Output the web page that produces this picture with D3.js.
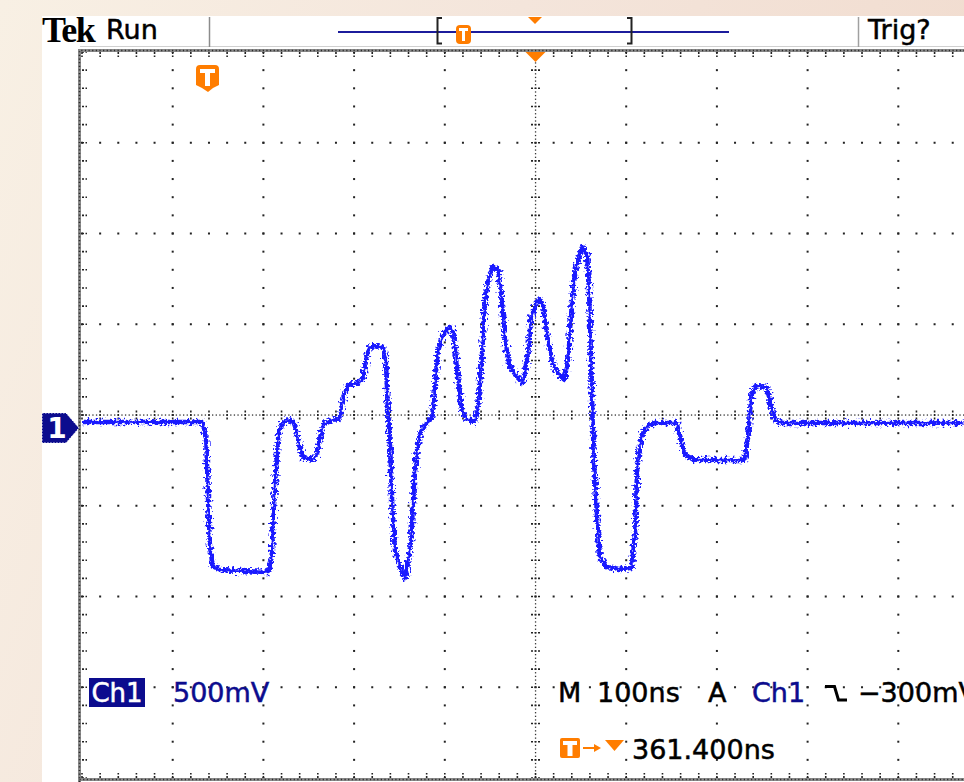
<!DOCTYPE html>
<html lang="en">
<head>
<meta charset="UTF-8">
<script src="https://d3js.org/d3.v7.min.js"></script>
<title>Tek Run</title>
<style>
    body { margin: 0; background: #fff; }
    svg { display: block; }
    text { font-family: "DejaVu Sans", sans-serif; }
</style>
</head>
<body>
<div id="chart"></div>
<script>
    // Ch1 trace: time in ns from left edge, level in mV
    let timeNs = [0, 133, 137, 139, 141, 144, 152, 174, 205, 209, 213, 216, 219, 226, 234, 238, 244, 254, 259, 262,
        266, 276, 284, 289, 293, 306, 310, 315, 320, 332, 335, 337, 340, 342, 345, 351, 356, 359, 363, 366,
        369, 373, 380, 386, 389, 392, 398, 406, 409, 412, 416, 419, 424, 433, 437, 441, 444, 448, 453, 459,
        463, 466, 471, 480, 485, 488, 492, 495, 501, 506, 509, 512, 518, 524, 532, 536, 540, 544, 549, 552,
        557, 559, 562, 564, 568, 571, 579, 593, 606, 610, 612, 614, 617, 623, 632, 656, 660, 665, 676, 730,
        734, 738, 743, 755, 759, 764, 771, 972]
    let ch1mV = [33, 33, -66, -397, -645, -761, -783, -788, -794, -728, -287, -66, 17, 44, 33, -66, -165, -176, -149, -66,
        17, 44, 55, 182, 237, 248, 276, 430, 452, 447, 375, 127, -138, -413, -673, -772, -827, -755, -617, -314,
        -132, -28, 28, 55, 209, 413, 513, 557, 529, 402, 209, 99, 50, 33, 127, 402, 689, 816, 888, 871,
        689, 502, 347, 281, 248, 292, 430, 606, 695, 706, 650, 540, 375, 303, 265, 375, 689, 871, 965, 998,
        954, 761, 226, -138, -507, -711, -766, -777, -772, -562, -232, -149, -39, 11, 28, 28, -66, -149, -176, -176,
        -66, 182, 232, 226, 138, 44, 28, 28]

    let nsPerDiv = 100
    let mVPerDiv = 500
    let ch1Offset = -0.143      // ground marker, in divisions
    let triggerNs = 500

    let brand = "Tek"
    let acqState = "Run"
    let trigState = "Trig?"
    let ch1Label = "Ch1"
    let ch1Scale = "500mV"
    let timebase = ["M", "100ns"]
    let trigSource = ["A", "Ch1"]
    let trigLevel = "\u2212300mV"
    let trigPos = "361.400ns"

    let navy = "#0c0c8e"
    let orange = "#ff7d00"
    let traceBlue = "#1a1aff"

    let svg = d3.select("#chart").append("svg")
        .attr("width", 964)
        .attr("height", 782)

    let defs = svg.append("defs")
    let bg = defs.append("linearGradient").attr("id", "bg").attr("x1", 0).attr("x2", 1).attr("y1", 0).attr("y2", 0.3)
    bg.append("stop").attr("offset", 0).attr("stop-color", "#f8f0e4")
    bg.append("stop").attr("offset", 0.5).attr("stop-color", "#f4e5db")
    bg.append("stop").attr("offset", 1).attr("stop-color", "#f1dccf")

    let noise = defs.append("filter").attr("id", "noise")
        .attr("filterUnits", "userSpaceOnUse")
        .attr("x", 0).attr("y", 0).attr("width", 964).attr("height", 782)
    noise.append("feTurbulence")
        .attr("type", "fractalNoise")
        .attr("baseFrequency", "0.4")
        .attr("numOctaves", 2)
        .attr("seed", 4)
        .attr("result", "n")
    noise.append("feDisplacementMap")
        .attr("in", "SourceGraphic")
        .attr("in2", "n")
        .attr("scale", 10)
        .attr("xChannelSelector", "R")
        .attr("yChannelSelector", "G")

    defs.append("clipPath").attr("id", "screen")
        .append("rect").attr("x", 82).attr("y", 52).attr("width", 900).attr("height", 726)

    // scales
    let x = d3.scaleLinear().domain([0, 10 * nsPerDiv]).range([82, 989])
    let y = d3.scaleLinear().domain([-4, 4]).range([778, 52])
    let yV = v => y(v / mVPerDiv + ch1Offset)

    // background + screen
    svg.append("rect").attr("width", 964).attr("height", 782).attr("fill", "url(#bg)")
    svg.append("rect").attr("x", 42).attr("y", 16).attr("width", 922).attr("height", 766).attr("fill", "#fff")

    // header
    svg.append("line").attr("x1", 80).attr("x2", 964).attr("y1", 46.5).attr("y2", 46.5)
        .attr("stroke", "#d0d0d0").attr("stroke-width", 1)
    svg.append("line").attr("x1", 209.5).attr("x2", 209.5).attr("y1", 17).attr("y2", 47)
        .attr("stroke", "#8c8c8c").attr("stroke-width", 1.5)
    svg.append("line").attr("x1", 858.5).attr("x2", 858.5).attr("y1", 17).attr("y2", 47)
        .attr("stroke", "#a0a0a0").attr("stroke-width", 1.5)
    svg.append("text").attr("x", 42).attr("y", 42)
        .style("font-family", "'Liberation Serif', serif")
        .attr("font-weight", "bold").attr("font-size", 36).attr("letter-spacing", -1.5)
        .text(brand)
    svg.append("text").attr("x", 106).attr("y", 39).attr("font-size", 27)
        .attr("stroke", "#000").attr("stroke-width", 0.5).text(acqState)
    svg.append("text").attr("x", 868).attr("y", 39).attr("font-size", 27)
        .attr("stroke", "#000").attr("stroke-width", 0.5).text(trigState)

    // record view bar
    svg.append("line").attr("x1", 338).attr("x2", 729).attr("y1", 32).attr("y2", 32)
        .attr("stroke", "#1c1c9c").attr("stroke-width", 2)
    svg.append("path").attr("d", "M442,18H437.5V43.5H442").attr("fill", "none").attr("stroke", "#222").attr("stroke-width", 2)
    svg.append("path").attr("d", "M627,18H631.5V43.5H627").attr("fill", "none").attr("stroke", "#222").attr("stroke-width", 2)
    svg.append("path").attr("d", "M528,17H542L535,24Z").attr("fill", orange)
    let hdrT = svg.append("g").attr("transform", "translate(456,25)")
    hdrT.append("rect").attr("width", 15).attr("height", 19).attr("rx", 4).attr("fill", orange)
    hdrT.append("path").attr("d", "M3,3H12V6H9V16H6V6H3Z").attr("fill", "#fff")

    // graticule: major dotted lines
    let grid = svg.append("g")
    let fifths = d3.range(0, 51).map(i => i / 5)
    let fifthsY = d3.range(-20, 21).map(i => i / 5)
    let majorX = d3.range(1, 10).filter(d => d !== 5)
    let majorY = d3.range(-3, 4).filter(d => d !== 0)

    majorX.forEach(i => {
        grid.selectAll(null).data(fifthsY).enter().append("rect")
            .attr("x", x(i * nsPerDiv) - 1).attr("y", d => y(d) - 1)
            .attr("width", 2).attr("height", 2).attr("fill", "#222")
    })
    majorY.forEach(j => {
        grid.selectAll(null).data(fifths).enter().append("rect")
            .attr("x", d => x(d * nsPerDiv) - 1).attr("y", y(j) - 1)
            .attr("width", 2).attr("height", 2).attr("fill", "#222")
    })

    // centre crosshair
    let cx = x(5 * nsPerDiv)
    let cy = y(0)
    let fine = d3.range(0, 251).map(i => i / 25)
    let fineY = d3.range(-100, 101).map(i => i / 25)
    grid.selectAll(null).data(fine).enter().append("rect")
        .attr("x", d => x(d * nsPerDiv) - 0.6).attr("y", cy - 0.6)
        .attr("width", 1.3).attr("height", 1.3).attr("fill", "#333")
    grid.selectAll(null).data(fineY).enter().append("rect")
        .attr("x", cx - 0.6).attr("y", d => y(d) - 0.6)
        .attr("width", 1.3).attr("height", 1.3).attr("fill", "#333")
    grid.selectAll(null).data(fifths).enter().append("line")
        .attr("x1", d => x(d * nsPerDiv)).attr("x2", d => x(d * nsPerDiv))
        .attr("y1", cy - 4.5).attr("y2", cy + 4.5)
        .attr("stroke", "#222").attr("stroke-width", 1.6).attr("stroke-dasharray", "2,1.5")
    grid.selectAll(null).data(fifthsY).enter().append("line")
        .attr("x1", cx - 4.5).attr("x2", cx + 4.5)
        .attr("y1", d => y(d)).attr("y2", d => y(d))
        .attr("stroke", "#222").attr("stroke-width", 1.6).attr("stroke-dasharray", "2,1.5")

    // edge ticks
    grid.selectAll(null).data(fifths).enter().append("line")
        .attr("x1", d => x(d * nsPerDiv)).attr("x2", d => x(d * nsPerDiv))
        .attr("y1", y(4)).attr("y2", y(4) + 5)
        .attr("stroke", "#222").attr("stroke-width", 1.6).attr("stroke-dasharray", "2,1.5")
    grid.selectAll(null).data(fifths).enter().append("line")
        .attr("x1", d => x(d * nsPerDiv)).attr("x2", d => x(d * nsPerDiv))
        .attr("y1", y(-4)).attr("y2", y(-4) - 5)
        .attr("stroke", "#222").attr("stroke-width", 1.6).attr("stroke-dasharray", "2,1.5")
    grid.selectAll(null).data(fifthsY).enter().append("line")
        .attr("x1", x(0)).attr("x2", x(0) + 5)
        .attr("y1", d => y(d)).attr("y2", d => y(d))
        .attr("stroke", "#222").attr("stroke-width", 1.6).attr("stroke-dasharray", "2,1.5")

    // border
    svg.append("path").attr("d", "M79.5,782V50.5H964M79.5,779.5H964")
        .attr("fill", "none").attr("stroke", "#8a8a8a").attr("stroke-width", 3)
    svg.append("path").attr("d", "M79.5,782V50.5H964M79.5,779.5H964")
        .attr("fill", "none").attr("stroke", "#2a2a2a").attr("stroke-width", 1.5)
        .attr("stroke-dasharray", "1.2,2.43")

    // trigger markers on screen
    svg.append("path").attr("d", `M${x(triggerNs) - 10},52H${x(triggerNs) + 10}L${x(triggerNs)},62Z`).attr("fill", orange)
    let onT = svg.append("g").attr("transform", "translate(196,65)")
    onT.append("path").attr("d", "M0,4Q0,0 4,0H19Q23,0 23,4V20L17,23L12,27L6,23L0,20Z").attr("fill", orange)
    onT.append("path").attr("d", "M4,4H19V8H14V21H9V8H4Z").attr("fill", "#fff")

    // trace
    let pts = timeNs.map((t, i) => [t, ch1mV[i]])
    let line = d3.line().x(d => x(d[0])).y(d => yV(d[1]))
    let tr = svg.append("g").attr("clip-path", "url(#screen)")
    tr.append("path").datum(pts).attr("d", line)
        .attr("fill", "none").attr("stroke", traceBlue).attr("stroke-width", 4.5)
        .attr("stroke-linejoin", "round").attr("filter", "url(#noise)")
    tr.append("path").datum(pts).attr("d", line)
        .attr("fill", "none").attr("stroke", traceBlue).attr("stroke-width", 1.8).attr("opacity", 0.75)

    // channel 1 ground marker
    let gy = yV(0)
    svg.append("path").attr("d", `M42,${gy - 15}H66L79,${gy}L66,${gy + 15}H42Z`)
        .attr("fill", navy).attr("stroke", "#fff").attr("stroke-width", 1).attr("stroke-dasharray", "1.5,1.5")
    svg.append("text").attr("x", 57).attr("y", gy + 10).attr("text-anchor", "middle")
        .attr("font-size", 28).attr("font-weight", "bold").attr("fill", "#fff").text("1")

    // readouts
    let readout = (sel, col) => sel.attr("font-size", 27).attr("fill", col).attr("stroke", col).attr("stroke-width", 0.5)
    svg.append("rect").attr("x", 89).attr("y", 678).attr("width", 56).attr("height", 29).attr("fill", navy)
    readout(svg.append("text").attr("x", 117).attr("y", 702).attr("text-anchor", "middle"), "#fff")
        .attr("font-size", 26).text(ch1Label)
    readout(svg.append("text").attr("x", 173).attr("y", 702), navy).text(ch1Scale)

    readout(svg.append("text").attr("x", 558).attr("y", 702), "#000").text(timebase[0])
    readout(svg.append("text").attr("x", 597).attr("y", 702), "#000").text(timebase[1])
    readout(svg.append("text").attr("x", 708).attr("y", 702), "#000").text(trigSource[0])
    readout(svg.append("text").attr("x", 752).attr("y", 702), navy).text(trigSource[1])
    svg.append("path").attr("d", "M825,686.5H834.5L838.5,700H847")
        .attr("fill", "none").attr("stroke", "#000").attr("stroke-width", 3)
    readout(svg.append("text").attr("x", 858).attr("y", 702), "#000").text(trigLevel)

    let tp = svg.append("g").attr("transform", "translate(560,738)")
    tp.append("rect").attr("width", 20).attr("height", 20).attr("rx", 2).attr("fill", orange)
    tp.append("path").attr("d", "M3,3H17V7H12.5V18H7.5V7H3Z").attr("fill", "#fff")
    tp.append("line").attr("x1", 23).attr("x2", 36).attr("y1", 10).attr("y2", 10).attr("stroke", orange).attr("stroke-width", 2)
    tp.append("path").attr("d", "M34,6L41,10L34,14Z").attr("fill", orange)
    tp.append("path").attr("d", "M45,2H64L54.5,13Z").attr("fill", orange)
    readout(svg.append("text").attr("x", 632).attr("y", 759), "#000").text(trigPos)
</script>
</body>
</html>
